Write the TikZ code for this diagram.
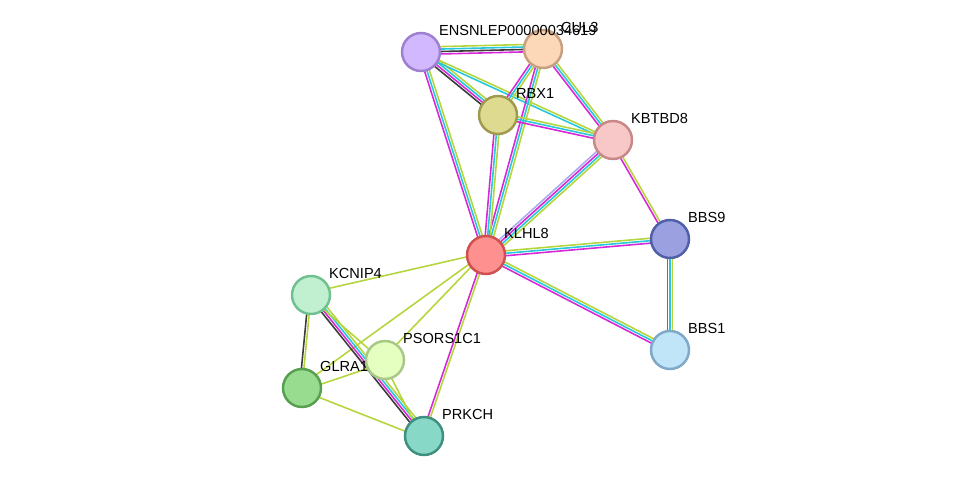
\documentclass[tikz,border=0pt]{standalone}
\usepackage{fontspec}
\setmainfont{Liberation Sans}
\usetikzlibrary{calc}
\definecolor{exper}{RGB}{214, 40, 214}
\definecolor{dbase}{RGB}{40, 200, 220}
\definecolor{tmine}{RGB}{180, 214, 60}
\definecolor{coexp}{RGB}{60, 60, 60}
\definecolor{homol}{RGB}{170, 170, 240}
\newcommand{\edge}[3]{%
  \foreach \c [count=\i] in {#3} {
    \draw[line width=0.9pt, \c]
      ($(#1)!{(\i-2)*1.4pt}!90:(#2)$) -- ($(#2)!{(\i-2)*1.4pt}!-90:(#1)$);
  }}

\begin{document}
\begin{tikzpicture}[x=0.02cm, y=-0.02cm,
  prot/.style={circle, minimum size=0.76cm, inner sep=0pt, line width=1.4pt},
  lbl/.style={anchor=south west, inner sep=0pt, font=\fontsize{8.3}{10}\selectfont, xshift=2pt, yshift=1pt}]

  \useasboundingbox (0, 0) rectangle (976, 482);

  % proteins
  \node[prot] (ens) at (421, 52) {};
  \node[prot] (cul) at (543, 49) {};
  \node[prot] (rbx) at (498, 115) {};
  \node[prot] (kbt) at (613, 140) {};
  \node[prot] (klh) at (486, 255) {};
  \node[prot] (bb9) at (670, 239) {};
  \node[prot] (bb1) at (670, 350) {};
  \node[prot] (kcn) at (311, 295) {};
  \node[prot] (pso) at (385, 360) {};
  \node[prot] (gla) at (302, 388) {};
  \node[prot] (prk) at (424, 436) {};

  % connectors
  \edge{ens}{cul}{exper, coexp, dbase, tmine}
  \edge{ens}{rbx}{coexp, exper, dbase, tmine}
  \edge{ens}{kbt}{dbase, tmine}
  \edge{ens}{klh}{exper, dbase, tmine}
  \edge{cul}{rbx}{exper, dbase, tmine}
  \edge{cul}{kbt}{exper, dbase, tmine}
  \edge{cul}{klh}{exper, dbase, tmine}
  \edge{rbx}{kbt}{exper, dbase, tmine}
  \edge{rbx}{klh}{exper, dbase, tmine}
  \edge{kbt}{klh}{homol, exper, dbase, tmine}
  \edge{kbt}{bb9}{exper, tmine}
  \edge{klh}{bb9}{exper, dbase, tmine}
  \edge{klh}{bb1}{exper, dbase, tmine}
  \edge{bb9}{bb1}{exper, dbase, tmine}
  \edge{klh}{kcn}{tmine}
  \edge{klh}{pso}{tmine}
  \edge{klh}{gla}{tmine}
  \edge{klh}{prk}{exper, tmine}
  \edge{kcn}{gla}{coexp, tmine}
  \edge{kcn}{prk}{coexp, exper, dbase, tmine}
  \edge{kcn}{pso}{tmine}
  \edge{gla}{pso}{tmine}
  \edge{gla}{prk}{tmine}
  \edge{pso}{prk}{tmine}

  % fills drawn over the lines
  \foreach \n/\f/\s in {ens/D2B8FF/9F7FCF, cul/FCD8B8/C8A080, rbx/DEDA90/A09A50,
      kbt/F8C8C8/C88888, klh/FF9090/D05050, bb9/9AA0E0/5060A8, bb1/C0E4F8/80A8C8,
      kcn/C0F0D0/70C090, pso/E4FFC0/A8C888, gla/98DC90/58A050, prk/88D8C8/409080} {
    \definecolor{nf}{HTML}{\f}
    \definecolor{ns}{HTML}{\s}
    \fill[nf, draw=ns, line width=1.4pt] (\n) circle (0.38cm);
  }

  % labels
  \node[lbl] at (ens.north east) {ENSNLEP00000034619};
  \node[lbl] at (cul.north east) {CUL3};
  \node[lbl] at (rbx.north east) {RBX1};
  \node[lbl] at (kbt.north east) {KBTBD8};
  \node[lbl] at (klh.north east) {KLHL8};
  \node[lbl] at (bb9.north east) {BBS9};
  \node[lbl] at (bb1.north east) {BBS1};
  \node[lbl] at (kcn.north east) {KCNIP4};
  \node[lbl] at (pso.north east) {PSORS1C1};
  \node[lbl] at (gla.north east) {GLRA1};
  \node[lbl] at (prk.north east) {PRKCH};
\end{tikzpicture}
\end{document}
